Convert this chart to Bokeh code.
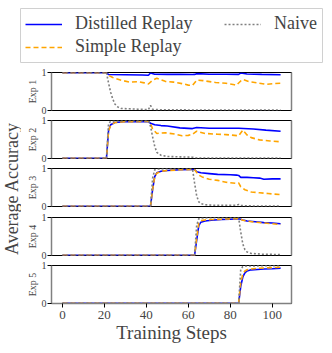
from math import pi
from bokeh.plotting import figure
from bokeh.models import Range1d, FixedTicker, Legend, LegendItem, Label, LinearAxis
from bokeh.layouts import column, row
from bokeh.embed import file_html
from bokeh.resources import INLINE

FONT = "Liberation Serif"

SERIES_NAMES = ["Distilled Replay", "Simple Replay", "Naive"]
X_TICKS = [0, 20, 40, 60, 80, 100]
Y_TICKS = [0, 1]
X_LABEL = "Training Steps"
Y_LABEL = "Average Accuracy"
PANEL_LABELS = ["Exp 1", "Exp 2", "Exp 3", "Exp 4", "Exp 5"]

# ---- Exp 1 ----
EXP1_DIST_X = [0, 21, 22, 30, 38, 41, 42, 44, 50, 56, 62, 63, 64, 70, 78, 84, 85, 88, 95, 104]
EXP1_DIST_Y = [1.0, 1.0, 0.95, 0.945, 0.94, 0.93, 0.99, 0.96, 0.955, 0.955, 0.95, 0.955, 0.975, 0.96, 0.96, 0.955, 0.99, 0.965, 0.955, 0.945]
EXP1_SIMP_X = [0, 21, 22, 24, 28, 32, 36, 39, 41, 43, 45, 49, 53, 57, 60, 62, 64, 67, 73, 78, 82, 83, 85, 86, 89, 93, 97, 101, 104]
EXP1_SIMP_Y = [1.0, 1.0, 0.93, 0.87, 0.80, 0.75, 0.76, 0.73, 0.70, 0.80, 0.85, 0.77, 0.75, 0.71, 0.67, 0.66, 0.80, 0.79, 0.74, 0.72, 0.68, 0.67, 0.78, 0.82, 0.76, 0.73, 0.69, 0.71, 0.72]
EXP1_NAIV_X = [0, 21, 22, 23, 24, 25, 26, 28, 32, 36, 41, 42, 43, 44, 48, 60, 80, 104]
EXP1_NAIV_Y = [1.0, 1.0, 0.72, 0.48, 0.30, 0.17, 0.10, 0.05, 0.04, 0.03, 0.02, 0.13, 0.03, 0.02, 0.015, 0.01, 0.01, 0.01]

# ---- Exp 2 ----
EXP2_DIST_X = [0, 21, 22, 23, 25, 29, 35, 41, 42, 44, 47, 50, 56, 62, 64, 70, 84, 91, 97, 104]
EXP2_DIST_Y = [0.0, 0.0, 0.74, 0.89, 0.95, 0.97, 0.975, 0.98, 0.93, 0.89, 0.87, 0.86, 0.81, 0.79, 0.82, 0.80, 0.80, 0.78, 0.75, 0.72]
EXP2_SIMP_X = [0, 21, 22, 23, 25, 29, 35, 41, 42, 43, 45, 49, 54, 57, 60, 62, 64, 68, 74, 78, 82, 84, 86, 88, 90, 94, 99, 104]
EXP2_SIMP_Y = [0.0, 0.0, 0.72, 0.88, 0.95, 0.97, 0.975, 0.98, 0.92, 0.78, 0.66, 0.68, 0.64, 0.60, 0.61, 0.64, 0.72, 0.66, 0.64, 0.63, 0.61, 0.60, 0.75, 0.62, 0.55, 0.49, 0.46, 0.44]
EXP2_NAIV_X = [0, 21, 22, 23, 25, 30, 41, 42, 43, 44, 45, 47, 50, 55, 62, 64, 70, 104]
EXP2_NAIV_Y = [0.0, 0.0, 0.93, 0.98, 0.99, 0.995, 0.995, 0.85, 0.57, 0.32, 0.16, 0.08, 0.05, 0.04, 0.03, 0.01, 0.005, 0.005]

# ---- Exp 3 ----
EXP3_DIST_X = [0, 42, 43, 44, 45, 47, 50, 56, 62, 63, 64, 66, 70, 74, 80, 83, 84, 85, 88, 91, 94, 96, 100, 104]
EXP3_DIST_Y = [0.0, 0.0, 0.45, 0.79, 0.89, 0.93, 0.95, 0.97, 0.98, 0.98, 0.92, 0.89, 0.87, 0.85, 0.84, 0.83, 0.82, 0.77, 0.77, 0.76, 0.75, 0.72, 0.73, 0.73]
EXP3_SIMP_X = [0, 42, 43, 44, 45, 47, 50, 56, 62, 63, 64, 65, 67, 70, 74, 78, 83, 84, 85, 87, 90, 94, 98, 104]
EXP3_SIMP_Y = [0.0, 0.0, 0.45, 0.78, 0.88, 0.93, 0.95, 0.97, 0.98, 0.98, 0.90, 0.83, 0.77, 0.72, 0.69, 0.64, 0.61, 0.62, 0.52, 0.44, 0.38, 0.36, 0.34, 0.31]
EXP3_NAIV_X = [0, 42, 43, 44, 45, 50, 62, 63, 64, 65, 66, 68, 72, 80, 83, 84, 85, 90, 104]
EXP3_NAIV_Y = [0.0, 0.0, 0.75, 0.97, 0.99, 1.0, 1.0, 0.62, 0.28, 0.12, 0.07, 0.04, 0.03, 0.03, 0.03, 0.05, 0.02, 0.01, 0.01]

# ---- Exp 4 ----
EXP4_DIST_X = [0, 63, 64, 65, 66, 68, 71, 76, 80, 84, 85, 86, 88, 92, 96, 100, 104]
EXP4_DIST_Y = [0.0, 0.0, 0.40, 0.79, 0.88, 0.91, 0.93, 0.95, 0.96, 0.97, 0.96, 0.94, 0.91, 0.89, 0.87, 0.86, 0.84]
EXP4_SIMP_X = [0, 63, 64, 65, 66, 68, 71, 76, 80, 84, 85, 86, 88, 92, 96, 100, 104]
EXP4_SIMP_Y = [0.0, 0.0, 0.45, 0.85, 0.92, 0.94, 0.95, 0.96, 0.97, 0.975, 0.96, 0.93, 0.91, 0.88, 0.86, 0.84, 0.82]
EXP4_NAIV_X = [0, 63, 64, 65, 66, 70, 84, 85, 86, 87, 88, 90, 95, 104]
EXP4_NAIV_Y = [0.0, 0.0, 0.80, 0.97, 0.99, 1.0, 1.0, 0.62, 0.30, 0.15, 0.09, 0.05, 0.03, 0.02]

# ---- Exp 5 ----
EXP5_DIST_X = [0, 84, 85, 86, 87, 88, 90, 93, 96, 100, 104]
EXP5_DIST_Y = [0.0, 0.0, 0.45, 0.70, 0.81, 0.86, 0.89, 0.90, 0.91, 0.92, 0.935]
EXP5_SIMP_X = [0, 84, 85, 86, 87, 88, 90, 93, 96, 100, 104]
EXP5_SIMP_Y = [0.0, 0.0, 0.55, 0.78, 0.86, 0.89, 0.91, 0.93, 0.94, 0.95, 0.96]
EXP5_NAIV_X = [0, 84, 85, 86, 87, 90, 95, 104]
EXP5_NAIV_Y = [0.0, 0.0, 0.90, 0.98, 0.99, 0.99, 1.0, 1.0]

PANELS = [
    ((EXP1_DIST_X, EXP1_DIST_Y), (EXP1_SIMP_X, EXP1_SIMP_Y), (EXP1_NAIV_X, EXP1_NAIV_Y)),
    ((EXP2_DIST_X, EXP2_DIST_Y), (EXP2_SIMP_X, EXP2_SIMP_Y), (EXP2_NAIV_X, EXP2_NAIV_Y)),
    ((EXP3_DIST_X, EXP3_DIST_Y), (EXP3_SIMP_X, EXP3_SIMP_Y), (EXP3_NAIV_X, EXP3_NAIV_Y)),
    ((EXP4_DIST_X, EXP4_DIST_Y), (EXP4_SIMP_X, EXP4_SIMP_Y), (EXP4_NAIV_X, EXP4_NAIV_Y)),
    ((EXP5_DIST_X, EXP5_DIST_Y), (EXP5_SIMP_X, EXP5_SIMP_Y), (EXP5_NAIV_X, EXP5_NAIV_Y)),
]

STYLES = [
    dict(line_color="#0000ff", line_width=1.6),
    dict(line_color="#ffa500", line_width=1.6, line_dash="5 3"),
    dict(line_color="#808080", line_width=1.6, line_dash="2 2"),
]

SPINE = "#808080"


def make_panel(idx, data, top, bottom, last):
    p = figure(frame_width=240, frame_height=38,
               min_border_left=30, min_border_right=4,
               min_border_top=top, min_border_bottom=bottom,
               x_range=Range1d(-5.2, 109.2), y_range=Range1d(-0.005, 1.005),
               toolbar_location=None, output_backend="svg")
    p.grid.visible = False
    p.outline_line_color = "black"
    p.outline_line_width = 1
    for (xs, ys), st in zip(data, STYLES):
        p.line(xs, ys, **st)
    ya = p.yaxis[0]
    ya.ticker = FixedTicker(ticks=Y_TICKS)
    ya.axis_label = PANEL_LABELS[idx]
    ya.axis_label_text_font = FONT
    ya.axis_label_text_font_style = "normal"
    ya.axis_label_text_font_size = "10px"
    ya.axis_label_standoff = 1
    ya.major_label_text_font = FONT
    ya.major_label_text_font_size = "10px"
    ya.major_label_standoff = 1
    ya.major_tick_out = 4
    ya.major_tick_in = 0
    ya.minor_tick_line_color = None
    ya.axis_line_color = SPINE
    ya.axis_line_width = 1.5
    ra = LinearAxis(ticker=FixedTicker(ticks=[]), major_label_text_font_size="0px",
                    axis_line_color=SPINE, axis_line_width=1.5,
                    major_tick_line_color=None, minor_tick_line_color=None)
    p.add_layout(ra, "right")
    xa = p.xaxis[0]
    if last:
        xa.ticker = FixedTicker(ticks=X_TICKS)
        xa.axis_label = X_LABEL
        xa.axis_label_text_font = FONT
        xa.axis_label_text_font_style = "normal"
        xa.axis_label_text_font_size = "19px"
        xa.axis_label_standoff = 0
        xa.major_label_text_font = FONT
        xa.major_label_text_font_size = "13px"
        xa.major_label_standoff = 3
        xa.major_tick_out = 4
        xa.major_tick_in = 0
        xa.minor_tick_line_color = None
        xa.axis_line_color = SPINE
        xa.axis_line_width = 1.5
    else:
        xa.visible = False
    return p


tops = [6, 5, 5, 5, 5]
bottoms = [5, 5, 6, 5, 39]
panels = [make_panel(i, PANELS[i], tops[i], bottoms[i], i == 4) for i in range(5)]

# legend figure
leg_fig = figure(frame_width=302, frame_height=54, min_border_left=20, min_border_right=8,
                 min_border_top=8, min_border_bottom=4,
                 x_range=Range1d(0, 1), y_range=Range1d(0, 1),
                 x_axis_location=None, y_axis_location=None,
                 toolbar_location=None, output_backend="svg")
leg_fig.grid.visible = False
leg_fig.outline_line_color = "#d0d0d0"
rends = [leg_fig.line([-10, -9], [-10, -9], **st) for st in STYLES]
common = dict(margin=0, padding=5, spacing=2, glyph_width=37, glyph_height=20,
              label_height=20, label_standoff=13, border_line_alpha=0,
              background_fill_alpha=0, label_text_font=FONT,
              label_text_font_size="18px")
leg1 = Legend(items=[LegendItem(label=SERIES_NAMES[0], renderers=[rends[0]]),
                     LegendItem(label=SERIES_NAMES[1], renderers=[rends[1]])],
              location="top_left", **common)
leg2 = Legend(items=[LegendItem(label=SERIES_NAMES[2], renderers=[rends[2]])],
              location="top_right", **common)
leg_fig.add_layout(leg1, "center")
leg_fig.add_layout(leg2, "center")

# left label figure
LH = 276
LW = 21
lab_fig = figure(width=LW, height=LH, min_border=0,
                 x_range=Range1d(0, LW), y_range=Range1d(0, LH),
                 x_axis_location=None, y_axis_location=None,
                 toolbar_location=None, output_backend="svg")
lab_fig.grid.visible = False
lab_fig.outline_line_color = None
lab_fig.add_layout(Label(x=11, y=LH - 122, text=Y_LABEL, angle=pi / 2,
                         text_align="center", text_baseline="middle",
                         text_font=FONT, text_font_size="18px"))

layout = column(leg_fig, row(lab_fig, column(*panels)))

open("out.html", "w").write(file_html(layout, INLINE))
